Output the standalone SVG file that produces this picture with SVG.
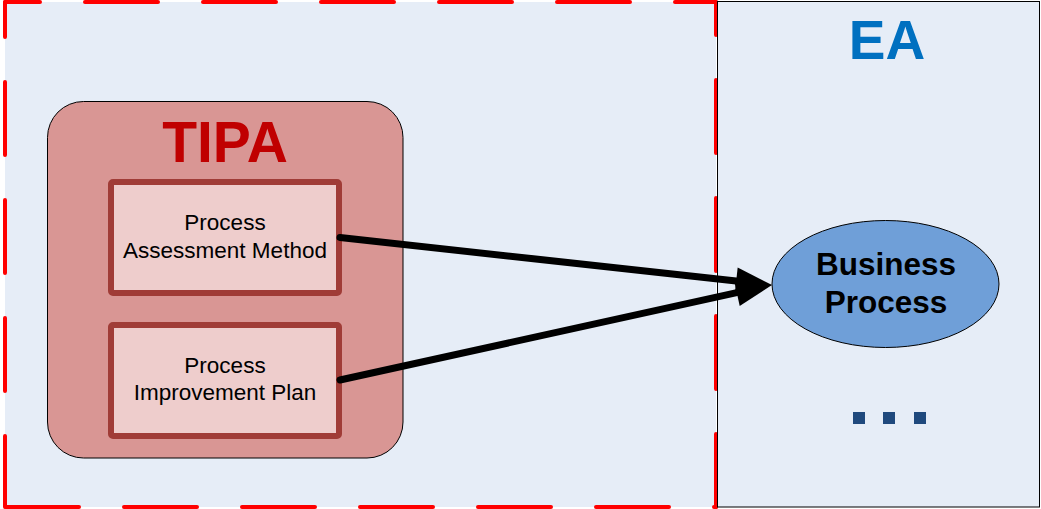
<svg xmlns="http://www.w3.org/2000/svg" width="1041" height="509" viewBox="0 0 1041 509">
  <style>
    .dash { stroke: #FF0000; stroke-width: 4; stroke-linecap: round; stroke-dasharray: 73 45; fill: none; }
    .inner { fill: #EECDCC; stroke: #A03C37; stroke-width: 6; }
    .innertxt { font-family: "Liberation Sans", Arial, sans-serif; font-size: 22.5px; fill: #000000; text-anchor: middle; }
    .bp { font-family: "Liberation Sans", Arial, sans-serif; font-size: 31.5px; font-weight: bold; fill: #000000; text-anchor: middle; }
    .conn { stroke: #000000; stroke-width: 7; stroke-linecap: round; fill: none; }
    .dot { fill: #1F497D; }
  </style>
  <defs>
    <marker id="head" markerUnits="userSpaceOnUse" markerWidth="40" markerHeight="30" viewBox="0 -15 40 30" refX="0" refY="0" orient="auto" overflow="visible">
      <path d="M0,-13.5 L36,0 L0,13.5 z" fill="#000000"/>
    </marker>
  </defs>

  <!-- background area with dashed red frame -->
  <g id="scope">
    <rect x="5" y="2" width="711" height="505" fill="#E6EDF7"/>
    <line class="dash" x1="5" y1="2" x2="716" y2="2" stroke-dashoffset="38"/>
    <line class="dash" x1="5" y1="2" x2="5" y2="507" stroke-dashoffset="38"/>
    <line class="dash" x1="5" y1="507" x2="716" y2="507" stroke-dashoffset="117"/>
    <line class="dash" x1="716" y1="2" x2="716" y2="507" stroke-dashoffset="40"/>
  </g>

  <!-- EA panel -->
  <g id="ea">
    <rect x="717.5" y="1.5" width="322" height="505.5" fill="#E6EDF7" stroke="#000000" stroke-width="1"/>
    <text x="887" y="59" font-family="Liberation Sans, Arial, sans-serif" font-size="55" font-weight="bold" fill="#0070C0" text-anchor="middle">EA</text>
  </g>

  <!-- TIPA container -->
  <g id="tipa">
    <rect x="47.5" y="101.5" width="355.5" height="356.5" rx="36" ry="36" fill="#D99694" stroke="#000000" stroke-width="1"/>
    <text x="225" y="162" font-family="Liberation Sans, Arial, sans-serif" font-size="57" font-weight="bold" fill="#C00000" text-anchor="middle">TIPA</text>
  </g>

  <g id="pam">
    <rect class="inner" x="111" y="182" width="228" height="111" rx="2"/>
    <text class="innertxt" x="225" y="230">Process</text>
    <text class="innertxt" x="225" y="258">Assessment Method</text>
  </g>

  <g id="pip">
    <rect class="inner" x="111" y="325" width="228" height="111" rx="2"/>
    <text class="innertxt" x="225" y="373">Process</text>
    <text class="innertxt" x="225" y="400">Improvement Plan</text>
  </g>

  <g id="business-process">
    <ellipse cx="885.5" cy="284" rx="113.5" ry="63.5" fill="#6F9FD8" stroke="#000000" stroke-width="1"/>
    <text class="bp" x="886" y="275">Business</text>
    <text class="bp" x="886" y="313">Process</text>
  </g>

  <g id="more">
    <rect class="dot" x="853" y="412" width="12" height="12"/>
    <rect class="dot" x="883" y="412" width="12" height="12"/>
    <rect class="dot" x="914" y="412" width="12" height="12"/>
  </g>

  <!-- connectors -->
  <g id="connectors">
    <line class="conn" x1="340" y1="237.5" x2="736.2" y2="281" marker-end="url(#head)"/>
    <line class="conn" x1="340" y1="380" x2="736.8" y2="292.7" marker-end="url(#head)"/>
  </g>
</svg>
